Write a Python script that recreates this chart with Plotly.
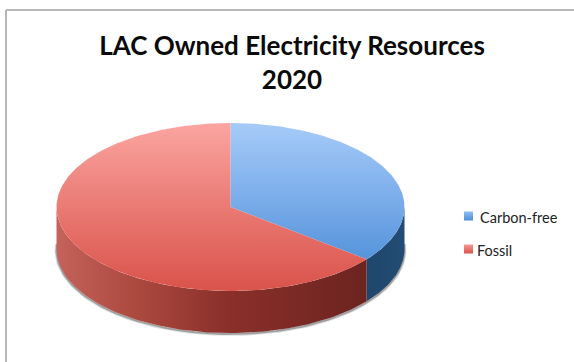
import numpy as np
import plotly.graph_objects as go

# Chart content
TITLE = "LAC Owned Electricity Resources<br>2020"
CATEGORIES = ["Carbon-free", "Fossil"]
SHARES = [35.7, 64.3]

# Gradient stops per slice; 0 is the lowest y value of the reversed axis (top of the face)
TOP_COLORS = [
    [[0, "#5594db"], [0.5, "#7fb0ec"], [1, "#a6cbf8"]],
    [[0, "#d9534a"], [0.5, "#ea7a74"], [1, "#fba5a0"]],
]
WALL_COLORS = [
    [[0, "#1f466c"], [1, "#234c74"]],
    [[0, "#c4625b"], [0.25, "#ac4a40"], [0.55, "#8b2f2a"], [1, "#6c2420"]],
]
SWATCH_COLORS = [("#8fbdf2", "#4f8fd6"), ("#f59a94", "#d9504a")]

# Pie geometry in page units
CX, CY, RX, RY, DEPTH = 230.5, 207.0, 174.0, 84.0, 42.0
W, H = 574, 362

# Legend placement in page units
SWATCH_X = 468.5
SWATCH_Y = [216, 249]
LABEL_X = [480, 477]
LABEL_Y = [217, 250]

fig = go.Figure()


def arc(start, stop, n=120):
    return np.radians(np.linspace(start, stop, n))


# Slice boundaries, clockwise from twelve o'clock
edges = -90 + 360 * np.cumsum([0] + SHARES) / sum(SHARES)

# Soft shadow along the lower rim
t = arc(-4, 184)
for width, color in [(4, "rgba(120,120,120,0.25)"), (2, "rgba(110,110,110,0.55)")]:
    fig.add_trace(go.Scatter(
        x=CX + RX * np.cos(t), y=CY + DEPTH + 1 + RY * np.sin(t), mode="lines",
        line=dict(color=color, width=width), showlegend=False, hoverinfo="skip",
    ))

# Side walls: only the part of each slice that faces the viewer
for i in range(2):
    lo, hi = max(edges[i], 0), min(edges[i + 1], 180)
    if hi <= lo:
        continue
    t = arc(lo, hi)
    xs = CX + RX * np.cos(t)
    ys = CY + RY * np.sin(t)
    fig.add_trace(go.Scatter(
        x=np.r_[xs, xs[::-1]], y=np.r_[ys, ys[::-1] + DEPTH],
        mode="lines", line=dict(width=0), fill="toself",
        fillgradient=dict(type="horizontal", colorscale=WALL_COLORS[i]),
        showlegend=False, hoverinfo="skip",
    ))

# Top faces
for i in range(2):
    t = arc(edges[i], edges[i + 1], 240)
    xs = np.r_[CX, CX + RX * np.cos(t), CX]
    ys = np.r_[CY, CY + RY * np.sin(t), CY]
    fig.add_trace(go.Scatter(
        x=xs, y=ys, mode="lines", line=dict(width=0), fill="toself",
        fillgradient=dict(type="vertical", colorscale=TOP_COLORS[i]),
        showlegend=False, hoverinfo="skip",
    ))

# Legend swatches
for i, name in enumerate(CATEGORIES):
    fig.add_trace(go.Scatter(
        x=[SWATCH_X], y=[SWATCH_Y[i]], mode="markers", name=name, showlegend=False,
        marker=dict(symbol="square", size=9, color=SWATCH_COLORS[i][0],
                    gradient=dict(type="vertical", color=SWATCH_COLORS[i][1])),
        hoverinfo="skip",
    ))

fig.update_layout(
    width=W, height=H, autosize=False,
    margin=dict(l=0, r=0, t=0, b=0),
    paper_bgcolor="white", plot_bgcolor="white",
    title=dict(
        text=f"<b>{TITLE}</b>", x=292 / W, xanchor="center", xref="paper",
        y=1 - 55 / H, yanchor="top",
        font=dict(family="Lato", size=26, color="#0a0a0a"),
    ),
    xaxis=dict(range=[0, W], visible=False, fixedrange=True),
    yaxis=dict(range=[H, 0], visible=False, fixedrange=True),
    showlegend=False,
    annotations=[
        dict(x=LABEL_X[i], y=LABEL_Y[i], xref="x", yref="y", text=name,
             showarrow=False, xanchor="left", yanchor="middle", xshift=-2,
             font=dict(family="Lato", size=14.5, color="#222222"))
        for i, name in enumerate(CATEGORIES)
    ],
    shapes=[
        # Frame of the chart area
        dict(type="line", xref="x", yref="y", x0=6, x1=6, y0=10, y1=H,
             line=dict(color="#b8b8b8", width=2)),
        dict(type="line", xref="x", yref="y", x0=6, x1=W, y0=10, y1=10,
             line=dict(color="#b8b8b8", width=2)),
    ],
)

fig.write_html("out.html")
